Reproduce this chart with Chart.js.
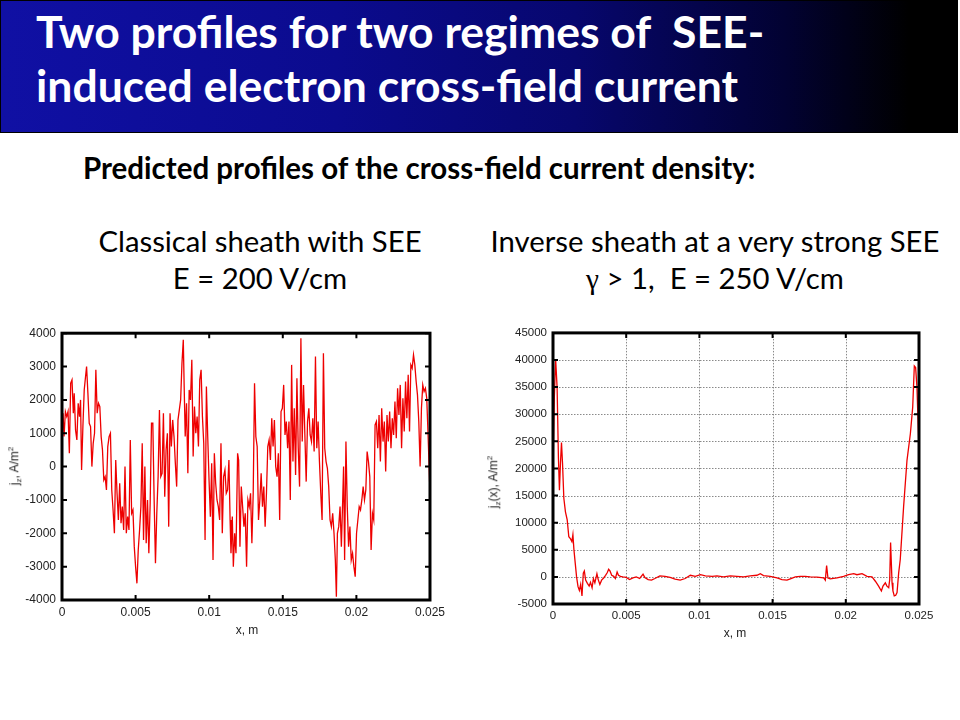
<!DOCTYPE html>
<html>
<head>
<meta charset="utf-8">
<script src="https://cdn.jsdelivr.net/npm/chart.js@4.4.1/dist/chart.umd.min.js"></script>
<style>
  html, body { margin: 0; padding: 0; background: #fff; }
  body { width: 960px; height: 720px; position: relative; overflow: hidden; font-family: Lato, "Open Sans", sans-serif; color: #000; }
  #banner { position: absolute; left: 0; top: 0; width: 956px; height: 131px; border: 1px solid #000;
    background: linear-gradient(to right, #1010a4 0%, #0b0b8e 35%, #07076e 60%, #020232 82%, #000 95%); }
  #banner h1 { position: absolute; left: 35px; top: 3px; margin: 0; font-size: 44.5px; font-weight: 700; line-height: 54px; color: #fff; white-space: nowrap; }
  #sub { position: absolute; left: 83px; top: 150px; font-size: 29.5px; font-weight: 700; white-space: nowrap; }
  .cap { position: absolute; top: 222px; font-size: 29.3px; line-height: 37px; text-align: center; white-space: nowrap; }
  #capL { left: 60px; width: 400px; }
  #capR { left: 465px; width: 500px; }
  .g { font-family: "Liberation Serif", serif; }
  canvas { position: absolute; }
  #cvL { left: 0; top: 320px; }
  #cvR { left: 480px; top: 320px; }
  .ax { position: absolute; font-family: "Liberation Sans", Arial, sans-serif; font-size: 12px; color: #222; white-space: nowrap; }
  .ylab { transform: translate(-50%, -50%) rotate(-90deg); }
  .xlab { transform: translate(-50%, -50%); }
  sub, sup { font-size: 8px; }
</style>
</head>
<body>
<div id="banner"><h1>Two profiles for two regimes of&nbsp; SEE-<br>induced electron cross-field current</h1></div>
<div id="sub">Predicted profiles of the cross-field current density:</div>
<div class="cap" id="capL">Classical sheath with SEE<br>E = 200 V/cm</div>
<div class="cap" id="capR">Inverse sheath at a very strong SEE<br><span class="g">γ</span> &gt; 1,&nbsp; E = 250 V/cm</div>

<canvas id="cvL" width="450" height="330"></canvas>
<canvas id="cvR" width="470" height="330"></canvas>

<div class="ax ylab" style="left:15px; top:466px;">j<sub>z</sub>, A/m<sup>2</sup></div>
<div class="ax xlab" style="left:247px; top:630px;">x, m</div>
<div class="ax ylab" style="left:494px; top:482px;">j<sub>z</sub>(x), A/m<sup>2</sup></div>
<div class="ax xlab" style="left:735px; top:633px;">x, m</div>

<script>
// ---------- data: classical sheath with SEE, E = 200 V/cm ----------
const classicalX = [
  0, 0.00007, 0.00014, 0.00023, 0.00032, 0.00041, 0.00050, 0.00059, 0.00068, 0.00077,
  0.00083, 0.00092, 0.00101, 0.00110, 0.00119, 0.00126, 0.00133, 0.00142, 0.00151, 0.00160,
  0.00167, 0.00176, 0.00185, 0.00194, 0.00203, 0.00212, 0.00221, 0.00230, 0.00239, 0.00248,
  0.00257, 0.00266, 0.00275, 0.00284, 0.00293, 0.00302, 0.00311, 0.00320, 0.00329, 0.00338,
  0.00347, 0.00356, 0.00365, 0.00374, 0.00383, 0.00392, 0.00401, 0.00410, 0.00419, 0.00428,
  0.00437, 0.00446, 0.00455, 0.00464, 0.00473, 0.00482, 0.00491, 0.00500, 0.00509, 0.00518,
  0.00527, 0.00536, 0.00545, 0.00554, 0.00563, 0.00572, 0.00581, 0.00590, 0.00599, 0.00608,
  0.00617, 0.00626, 0.00635, 0.00644, 0.00653, 0.00662, 0.00671, 0.00680, 0.00689, 0.00698,
  0.00707, 0.00716, 0.00725, 0.00734, 0.00743, 0.00752, 0.00761, 0.00770, 0.00779, 0.00788,
  0.00797, 0.00806, 0.00815, 0.00824, 0.00830, 0.00837, 0.00846, 0.00855, 0.00864, 0.00873,
  0.00882, 0.00891, 0.00900, 0.00909, 0.00918, 0.00927, 0.00936, 0.00945, 0.00954, 0.00963,
  0.00972, 0.00981, 0.00990, 0.00999, 0.01008, 0.01017, 0.01026, 0.01035, 0.01044, 0.01053,
  0.01062, 0.01071, 0.01080, 0.01089, 0.01098, 0.01107, 0.01116, 0.01125, 0.01134,
  0.01142, 0.01148, 0.01157, 0.01164, 0.01173, 0.01182, 0.01193, 0.01200, 0.01209, 0.01218,
  0.01227, 0.01236, 0.01245, 0.01254, 0.01263, 0.01272, 0.01281, 0.01290, 0.01299, 0.01308,
  0.01317, 0.01326, 0.01335, 0.01344, 0.01353, 0.01362, 0.01371, 0.01380, 0.01389, 0.01398,
  0.01407, 0.01416, 0.01425, 0.01434, 0.01443, 0.01452, 0.01461, 0.01470, 0.01479, 0.01488,
  0.01497, 0.01506, 0.01515, 0.01524, 0.01533, 0.01542, 0.01551, 0.01560, 0.01569, 0.01578,
  0.01587, 0.01596, 0.01605, 0.01614, 0.01623, 0.01632, 0.01641, 0.01650, 0.01659, 0.01668,
  0.01677, 0.01686, 0.01695, 0.01704, 0.01713, 0.01722, 0.01731, 0.01740, 0.01749, 0.01758,
  0.01767, 0.01776, 0.01785, 0.01794, 0.01803, 0.01812, 0.01821, 0.01830, 0.01839, 0.01848,
  0.01857, 0.01864, 0.01871, 0.01880, 0.01889, 0.01898, 0.01907, 0.01913, 0.01920, 0.01929,
  0.01938, 0.01947, 0.01956, 0.01965, 0.01974, 0.01983, 0.01992, 0.02001, 0.02010, 0.02019,
  0.02028, 0.02037, 0.02046, 0.02055, 0.02064, 0.02073, 0.02082, 0.02091, 0.02100, 0.02109,
  0.02118, 0.02127, 0.02136, 0.02145, 0.02154, 0.02163, 0.02172, 0.02181, 0.02190, 0.02199,
  0.02208, 0.02217, 0.02226, 0.02235, 0.02244, 0.02253, 0.02262, 0.02271, 0.02280, 0.02289,
  0.02298, 0.02307, 0.02316, 0.02325, 0.02334, 0.02343, 0.02352, 0.02361, 0.02370, 0.02379,
  0.02388, 0.02397, 0.02406, 0.02415, 0.02424, 0.02433, 0.02442, 0.02451, 0.02460, 0.02469,
  0.02478, 0.02487, 0.02500
];
const classicalJ = [
  1000, 1600, 900, 1650, 1500, 1650, 400, 2500, 2600, 1600,
  2200, 1100, 800, 1900, 1500, 2000, -100, 1200, 2300, 2700,
  3000, 2200, 1300, 1200, 0, 700, 1000, 2900, 1600, 1900,
  1800, 900, 500, -400, -300, -700, 600, 900, 1000, -700,
  -1300, -2000, 200, -800, -1600, -500, -1700, -1200, -1900, 0,
  -2000, -1500, -1900, 800, -1400, -1300, -2400, -3000, -3500, -2500,
  -1900, -1200, 700, -2200, 0, -2300, -1000, -2600, -1100, 1300,
  1300, -1000, -2900, -1400, -300, 1700, -300, -200, 1600, -900,
  500, 1000, -1800, 1600, 600, 1400, 900, 100, -600, 1400,
  1700, 2000, 3100, 3800, 2400, 900, 1900, -200, 2300, 2000,
  3200, 300, 1800, 1000, 1500, 600, 2600, 2900, 1500, 700,
  -2200, 2400, 900, -400, -1500, 100, -2800, 400, -500, -1000,
  -1200, -1600, 700, -2000, -300, -100, -800, -700, 200,
  -1600, -2600, -1500, -3000, -2000, -2600, 400, 200, -2400, -600,
  -1200, -1800, -1400, -3000, -1000, -1200, -800, -2300, -800, 2500,
  900, 600, -1600, -1000, -200, -1200, -600, -1800, -800, 600,
  800, 200, 1450, 600, 1400, 0, -300, 400, -1600, 1650,
  1750, 2450, 950, 1350, 550, 1350, -1000, 3050, 150, 1750,
  -250, 2650, 550, -600, 3850, 750, 2450, 950, -450, 1350,
  1750, 950, 750, 1450, 450, 3300, 550, 1350, 150, -800,
  -1600, 3400, 550, 150, -50, -600, -1600, -1800, -1400, -2000,
  -2800, -3900, -2000, -1800, -1200, -2400, -1000, 0, -2800, 750,
  -1200, -2400, -1800, -2800, -2600, -3000, -3300, -2000, -1600, -1200,
  -1300, -1000, -600, -1000, -700, 450, 150, -300, -2500, -1400,
  -1600, 1250, 1350, 550, 1550, 150, 1750, 750, 1350, -150,
  1550, 750, 1650, 550, 1450, 950, 1950, 850, 2350, 1550,
  2450, 550, 2050, 1050, 2550, 1450, 2750, 1050, 3050, 2950,
  3350, 3050, 2550, 2150, 1350, 0, 1750, 2450, 2250, 2350,
  2050, 950, -800
];

// ---------- data: inverse sheath, gamma > 1, E = 250 V/cm ----------
const inverseX = [
  0, 0.00009, 0.00018, 0.00028, 0.00037, 0.00044, 0.00051, 0.00058, 0.00065, 0.00074,
  0.00085, 0.00097, 0.00108, 0.00120, 0.00129, 0.00136, 0.00143, 0.00152, 0.00161, 0.00171,
  0.00180, 0.00189, 0.00198, 0.00207, 0.00214, 0.00223, 0.00235, 0.00247, 0.00256, 0.00267,
  0.00276, 0.00286, 0.00300, 0.00309, 0.00320, 0.00332, 0.00346, 0.00359, 0.00371, 0.00380,
  0.00389, 0.00401, 0.00415, 0.00426, 0.00438, 0.00447, 0.00461, 0.00477, 0.00500, 0.00523,
  0.00546, 0.00569, 0.00592, 0.00615, 0.00627, 0.00650, 0.00673, 0.00696, 0.00730, 0.00765,
  0.00800, 0.00834, 0.00869, 0.00903, 0.00938, 0.00972, 0.01007, 0.01041, 0.01087, 0.01120,
  0.01165, 0.01211, 0.01256, 0.01302, 0.01347, 0.01393, 0.01416, 0.01438, 0.01484, 0.01530,
  0.01564, 0.01598, 0.01621, 0.01655, 0.01689, 0.01723, 0.01757, 0.01803, 0.01849, 0.01860,
  0.01869, 0.01878, 0.01894, 0.01940, 0.01985, 0.02019, 0.02054, 0.02076, 0.02111, 0.02145,
  0.02179, 0.02202, 0.02224, 0.02243, 0.02254, 0.02270, 0.02281, 0.02293, 0.02300, 0.02306,
  0.02316, 0.02322, 0.02331, 0.02341, 0.02350, 0.02361, 0.02372, 0.02395, 0.02418, 0.02441,
  0.02457, 0.02468, 0.02477, 0.02486, 0.02498
];
const inverseJ = [
  19000, 33000, 40200, 35000, 22000, 16000, 21000, 24800, 21000, 14500,
  12000, 10500, 7400, 7000, 6500, 7800, 5000, 2500, 0, -1800,
  -2500, -1400, -3500, 700, 1100, -600, -1200, -1700, -1000, -2000,
  -300, -1100, 600, -500, -1400, -600, -200, 300, 800, 1400,
  1100, 300, 100, -300, 900, 300, 100, 0, -100, -500,
  -200, 0, -300, 500, -100, -500, -600, -300, 200, 100,
  -100, -400, -600, -300, 300, 100, 400, 200, 100, 200,
  0, 200, 100, 0, 200, 300, 600, 250, 100, -200,
  -500, -600, -350, 0, 100, 100, 0, -50, -200, -600,
  2100, -200, -350, -200, 100, 400, 600, 400, 600, 100,
  0, -800, -1700, -2600, -1700, -1100, -1700, -2000, -500, 6350,
  -1100, -2600, -3500, -3400, -2900, 700, 3200, 13000, 21500, 26400,
  31300, 38900, 38600, 35000, 25000
];

// ---------- axis ticks ----------
const xTicks = [0, 0.005, 0.01, 0.015, 0.02, 0.025];
const classicalYTicks = [-4000, -3000, -2000, -1000, 0, 1000, 2000, 3000, 4000];
const inverseYTicks = [-5000, 0, 5000, 10000, 15000, 20000, 25000, 30000, 35000, 40000, 45000];

const pts = (xs, ys) => xs.map((x, i) => ({ x: x, y: ys[i] }));

// frame, inward tick marks and (optional) dotted grid
const framePlugin = {
  id: 'frame',
  beforeDatasetsDraw(chart, args, o) {
    if (!o.grid) return;
    const { ctx, chartArea: a, scales: { x, y } } = chart;
    ctx.save();
    ctx.strokeStyle = '#8a8a8a'; ctx.lineWidth = 1; ctx.setLineDash([1.5, 1.5]);
    ctx.beginPath();
    x.ticks.forEach(t => { const p = Math.round(x.getPixelForValue(t.value)) + 0.5; ctx.moveTo(p, a.top); ctx.lineTo(p, a.bottom); });
    y.ticks.forEach(t => { const p = Math.round(y.getPixelForValue(t.value)) + 0.5; ctx.moveTo(a.left, p); ctx.lineTo(a.right, p); });
    ctx.stroke();
    ctx.restore();
  },
  afterDatasetsDraw(chart, args, o) {
    const { ctx, chartArea: a, scales: { x, y } } = chart;
    ctx.save();
    ctx.strokeStyle = '#000'; ctx.lineWidth = 2;
    ctx.beginPath();
    x.ticks.forEach(t => {
      const p = x.getPixelForValue(t.value);
      ctx.moveTo(p, a.bottom); ctx.lineTo(p, a.bottom - 5);
      ctx.moveTo(p, a.top); ctx.lineTo(p, a.top + 5);
    });
    y.ticks.forEach(t => {
      const p = y.getPixelForValue(t.value);
      ctx.moveTo(a.left, p); ctx.lineTo(a.left + 5, p);
      ctx.moveTo(a.right, p); ctx.lineTo(a.right - 5, p);
    });
    ctx.stroke();
    ctx.lineWidth = 3;
    ctx.strokeRect(a.left, a.top, a.right - a.left, a.bottom - a.top);
    ctx.restore();
  }
};

function makeChart(id, data, yTicks, opt) {
  const tickFont = { family: '"Liberation Sans", Arial, sans-serif', size: opt.fontSize };
  return new Chart(document.getElementById(id), {
    type: 'line',
    data: { datasets: [{ data: data, borderColor: '#ee0000', borderWidth: 1.3, pointRadius: 0, tension: 0, fill: false }] },
    plugins: [framePlugin],
    options: {
      responsive: false, animation: false, devicePixelRatio: 1,
      layout: { padding: { left: 0, top: opt.top, right: opt.right, bottom: 0 } },
      plugins: { legend: { display: false }, tooltip: { enabled: false }, frame: { grid: opt.grid } },
      scales: {
        x: {
          type: 'linear', min: 0, max: 0.025,
          afterBuildTicks: s => { s.ticks = xTicks.map(v => ({ value: v })); },
          afterFit: s => { s.height = opt.xh; },
          grid: { display: false, drawTicks: false, tickLength: 0 }, border: { display: false },
          ticks: { color: '#222', font: tickFont, padding: 5, maxRotation: 0, callback: v => String(+v.toFixed(3)) }
        },
        y: {
          type: 'linear', min: yTicks[0], max: yTicks[yTicks.length - 1],
          afterBuildTicks: s => { s.ticks = yTicks.map(v => ({ value: v })); },
          afterFit: s => { s.width = opt.yw; },
          grid: { display: false, drawTicks: false, tickLength: 0 }, border: { display: false },
          ticks: { color: '#222', font: tickFont, padding: 6, callback: v => String(v) }
        }
      }
    }
  });
}

makeChart('cvL', pts(classicalX, classicalJ), classicalYTicks, { top: 11, right: 19, xh: 50, yw: 62, grid: false, fontSize: 12 });
makeChart('cvR', pts(inverseX, inverseJ), inverseYTicks, { top: 12, right: 31, xh: 46, yw: 73, grid: true, fontSize: 11.5 });
</script>
</body>
</html>
